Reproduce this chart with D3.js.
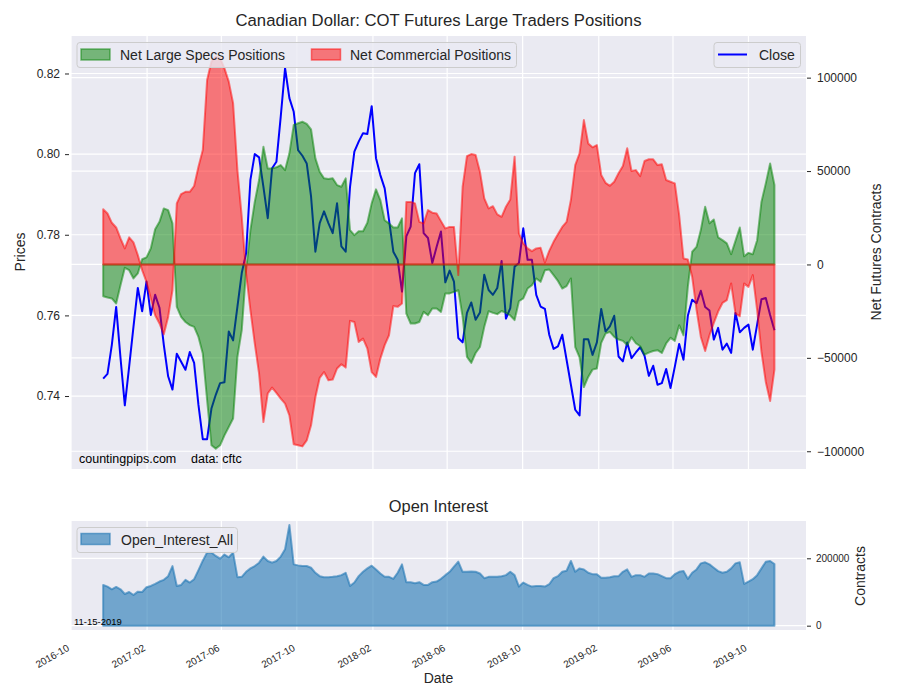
<!DOCTYPE html>
<html lang="en">
<head>
  <meta charset="UTF-8">
  <title>Canadian Dollar: COT Futures Large Traders Positions</title>
  <script src="https://d3js.org/d3.v7.min.js"></script>
  <style>
    body {
      margin: 0;
      background: #fff;
    }
    svg {
      font-family: "Liberation Sans", Arial, sans-serif;
      display: block;
    }
  </style>
</head>
<body>
  <svg width="900" height="700"></svg>

  <script>
    // weekly COT reports (Tuesdays), first one
    const firstReport = "2016-11-22";

    const closePrices = [
      0.7443, 0.7455, 0.7527, 0.7621, 0.7495, 0.7377, 0.7473, 0.7572, 0.7668, 0.7610,
      0.7684, 0.7601, 0.7651, 0.7619, 0.7527, 0.7449, 0.7416, 0.7505, 0.7485, 0.7465,
      0.7509, 0.7482, 0.7378, 0.7293, 0.7293, 0.7369, 0.7403, 0.7432, 0.7434, 0.7560,
      0.7538, 0.7622, 0.7705, 0.7754, 0.7936, 0.8000, 0.7992, 0.7919, 0.7841, 0.7965,
      0.7981, 0.8093, 0.8213, 0.8139, 0.8105, 0.8010, 0.7996, 0.7977, 0.7895, 0.7758,
      0.7829, 0.7858, 0.7829, 0.7804, 0.7878, 0.7771, 0.7758, 0.7919, 0.8006, 0.8031,
      0.8052, 0.8050, 0.8119, 0.7990, 0.7948, 0.7915, 0.7837, 0.7758, 0.7738, 0.7659,
      0.7796, 0.7820, 0.7953, 0.7975, 0.7804, 0.7792, 0.7730, 0.7770, 0.7808, 0.7682,
      0.7711, 0.7684, 0.7544, 0.7533, 0.7606, 0.7632, 0.7589, 0.7607, 0.7701, 0.7663,
      0.7651, 0.7668, 0.7735, 0.7592, 0.7618, 0.7721, 0.7730, 0.7816, 0.7738, 0.7738,
      0.7651, 0.7622, 0.7616, 0.7552, 0.7517, 0.7523, 0.7552, 0.7490, 0.7428,
      0.7366, 0.7352, 0.7541, 0.7541, 0.7502, 0.7533, 0.7616, 0.7560, 0.7573, 0.7599,
      0.7498, 0.7486, 0.7533, 0.7494, 0.7508, 0.7521, 0.7500, 0.7450, 0.7475, 0.7428,
      0.7432, 0.7467, 0.7420, 0.7473, 0.7529, 0.7490, 0.7599, 0.7639, 0.7630, 0.7661,
      0.7621, 0.7612, 0.7540, 0.7569, 0.7515, 0.7530, 0.7507, 0.7606, 0.7558, 0.7569,
      0.7577, 0.7515, 0.7577, 0.7640, 0.7643, 0.7601, 0.7563
    ];

    const specsNet = [
      -17000, -17700, -18200, -20900, -11100, -1800, -3100, -7500, -4800, 2800,
      3800, 8600, 18800, 22800, 30000, 29100, 22000, -22700, -28100, -30800,
      -32500, -33400, -38800, -47700, -72700, -96800, -98600, -96800, -91500, -87000,
      -82500, -49500, -35200, -3100, 18400, 33500, 45200, 63000, 51400, 51400,
      52000, 53200, 50500, 59500, 74700, 75600, 76400, 75200, 72300, 56800,
      49600, 46100, 45700, 46100, 42500, 41600, 46100, 18400, 15700, 17800,
      17800, 22300, 32700, 40200, 34500, 23700, 22000, 19800, 19800, 24700,
      -26300, -31600, -31600, -30800, -25400, -27200, -23600, -23600, -25400, -15500,
      -15500, -14700, -13800, -28100, -49500, -52700, -47400, -44200, -33400, -25000,
      -25900, -26600, -24900, -25900, -27300, -29800, -19700, -18200, -12900, -11100,
      -7500, -9300, -3100, -2700, -5700, -8800, -12900, -11600, -7500,
      -44200, -49800, -65600, -60200, -56300, -55700, -42000, -37000, -36100, -38800,
      -40200, -40900, -43200, -39000, -42200, -43800, -48300, -47200, -46300, -45900,
      -47400, -42300, -39300, -40900, -32500, -37900, -12000, 6800, 9400, 18400,
      30900, 22000, 24100, 14500, 13000, 11300, 5500, 12600, 19800, 4400,
      6200, 5500, 13000, 33500, 43400, 54100, 42500
    ];

    const commercialNet = [
      29600, 27300, 22300, 19800, 13900, 8600, 14500, 11800, 5000, -3100,
      -9300, -18200, -27200, -31600, -37400, -28100, -13800, 32700, 37700, 38900,
      38900, 42000, 52300, 61300, 98800, 108600, 111300, 110400, 105000, 97900,
      86300, 50500, 25500, -4800, -24500, -42300, -58400, -84400, -69100, -65900,
      -68800, -71800, -74500, -80800, -96300, -96800, -97400, -94200, -86100, -71100,
      -60700, -57600, -62000, -61600, -55700, -53400, -55200, -30200, -30800, -41500,
      -39700, -45000, -57600, -60200, -50400, -43200, -37900, -22300, -22700, -20900,
      33500, 33500, 32700, 22800, 22000, 29100, 27700, 27300, 23200, 19300,
      20100, 20100, -5700, 41600, 58000, 59100, 58600, 49600, 35400, 30000,
      31200, 26800, 25500, 30900, 34800, 57700, 16600, 11300, 8600, 7100,
      8600, 8900, 1100, 7300, 12100, 16200, 20100, 22800, 34500,
      53200, 59500, 77300, 64800, 62700, 63900, 47900, 43700, 42100, 44300,
      48800, 52700, 62200, 50000, 50500, 47300, 55400, 56300, 56300, 53200,
      53600, 45200, 44300, 43400, 26400, 3200, 2700, -6600, -24100, -38800,
      -46300, -37900, -31300, -25200, -20600, -19100, -10200, -26300, -27700, -10200,
      -12000, -5700, -24500, -46800, -62900, -73100, -56300
    ];

    const openInterest = [
      121000, 116000, 108000, 115000, 108000, 94000, 100000, 91000, 101000, 100000,
      114000, 118000, 124000, 131000, 136000, 147000, 177000, 118000, 121000, 136000,
      128000, 138000, 165000, 193000, 217000, 217000, 207000, 199000, 211000, 203000,
      217000, 144000, 145000, 160000, 170000, 177000, 187000, 205000, 192000, 187000,
      192000, 205000, 227000, 299000, 182000, 179000, 177000, 177000, 172000, 157000,
      147000, 144000, 144000, 145000, 147000, 150000, 157000, 118000, 128000, 147000,
      160000, 170000, 178000, 167000, 155000, 145000, 145000, 139000, 157000, 182000,
      129000, 129000, 126000, 129000, 121000, 121000, 129000, 131000, 139000, 150000,
      160000, 175000, 190000, 160000, 160000, 161000, 160000, 155000, 141000,
      145000, 145000, 145000, 147000, 150000, 160000, 150000, 116000, 128000, 121000,
      116000, 118000, 118000, 116000, 123000, 141000, 147000, 160000, 163000, 192000,
      160000, 170000, 167000, 157000, 153000, 153000, 142000, 142000, 144000, 147000,
      147000, 160000, 167000, 145000, 150000, 150000, 145000, 155000, 155000, 153000,
      147000, 141000, 141000, 153000, 160000, 162000, 139000, 157000, 167000, 185000,
      188000, 182000, 172000, 162000, 157000, 160000, 170000, 185000, 188000, 124000,
      131000, 138000, 150000, 170000, 190000, 192000, 183000
    ];

    const dateTicks = ["2016-10", "2017-02", "2017-06", "2017-10", "2018-02",
                       "2018-06", "2018-10", "2019-02", "2019-06", "2019-10"];
    const priceTicks = [0.74, 0.76, 0.78, 0.80, 0.82];
    const netTicks = [-100000, -50000, 0, 50000, 100000];
    const oiTicks = [0, 200000];

    const svg = d3.select("svg");
    const textColor = "#262626";
    const bg = "#eaeaf2";

    const left = 71, right = 806;
    const top1 = 36, bottom1 = 469;
    const top2 = 521, bottom2 = 630;

    const startDay = d3.utcParse("%Y-%m-%d")(firstReport);
    const dates = closePrices.map((_, i) => d3.utcDay.offset(startDay, 7 * i));
    const tickDates = dateTicks.map(d3.utcParse("%Y-%m"));

    const x = d3.scaleUtc()
      .domain([new Date(Date.UTC(2016, 9, 1)), new Date(Date.UTC(2020, 0, 2))])
      .range([left, right]);
    const yPrice = d3.scaleLinear().domain([0.7219, 0.8293]).range([bottom1, top1]);
    const yNet = d3.scaleLinear().domain([-109500, 122300]).range([bottom1, top1]);
    const yOI = d3.scaleLinear().domain([-12800, 310700]).range([bottom2, top2]);

    // panel backgrounds + grid
    function panel(y0, y1, hLines, clipId) {
      svg.append("rect")
        .attr("x", left).attr("y", y0)
        .attr("width", right - left).attr("height", y1 - y0)
        .attr("fill", bg);
      svg.append("clipPath").attr("id", clipId)
        .append("rect")
        .attr("x", left).attr("y", y0)
        .attr("width", right - left).attr("height", y1 - y0);
      const g = svg.append("g").attr("stroke", "#fff").attr("stroke-width", 1.2);
      g.selectAll(".v").data(tickDates).join("line")
        .attr("x1", d => x(d)).attr("x2", d => x(d))
        .attr("y1", y0).attr("y2", y1);
      g.selectAll(".h").data(hLines).join("line")
        .attr("x1", left).attr("x2", right)
        .attr("y1", d => d).attr("y2", d => d);
    }

    panel(top1, bottom1,
      priceTicks.map(yPrice).concat(netTicks.map(yNet)), "clipTop");
    panel(top2, bottom2, oiTicks.map(yOI), "clipBottom");

    // top panel series
    const topG = svg.append("g").attr("clip-path", "url(#clipTop)");

    const closeLine = d3.line()
      .x((d, i) => x(dates[i]))
      .y(d => yPrice(d));

    topG.append("path")
      .datum(closePrices)
      .attr("d", closeLine)
      .attr("fill", "none")
      .attr("stroke", "#0000ff")
      .attr("stroke-width", 2)
      .attr("stroke-linejoin", "round");

    const netArea = d3.area()
      .x((d, i) => x(dates[i]))
      .y0(yNet(0))
      .y1(d => yNet(d));

    [[specsNet, "#008000"], [commercialNet, "#ff0000"]].forEach(([vals, col]) => {
      topG.append("path")
        .datum(vals)
        .attr("d", netArea)
        .attr("fill", col)
        .attr("fill-opacity", 0.5)
        .attr("stroke", col)
        .attr("stroke-opacity", 0.5)
        .attr("stroke-width", 2)
        .attr("stroke-linejoin", "round");
    });

    // bottom panel
    const oiArea = d3.area()
      .x((d, i) => x(dates[i]))
      .y0(yOI(0))
      .y1(d => yOI(d));

    svg.append("g").attr("clip-path", "url(#clipBottom)")
      .append("path")
      .datum(openInterest)
      .attr("d", oiArea)
      .attr("fill", "#1f77b4")
      .attr("fill-opacity", 0.6)
      .attr("stroke", "#1f77b4")
      .attr("stroke-opacity", 0.6)
      .attr("stroke-width", 2)
      .attr("stroke-linejoin", "round");

    // axes
    function styleAxis(g, size) {
      g.select(".domain").remove();
      g.selectAll(".tick line").attr("stroke", textColor).attr("stroke-width", 1);
      g.selectAll(".tick text").attr("fill", textColor)
        .style("font-size", size + "px")
        .style("font-family", '"Liberation Sans", Arial, sans-serif');
    }

    svg.append("g")
      .attr("transform", `translate(${left - 2},0)`)
      .call(d3.axisLeft(yPrice).tickValues(priceTicks)
        .tickFormat(d3.format(".2f")).tickSize(4).tickPadding(5))
      .call(g => styleAxis(g, 12));

    svg.append("g")
      .attr("transform", `translate(${right + 1},0)`)
      .call(d3.axisRight(yNet).tickValues(netTicks)
        .tickFormat(d3.format("d")).tickSize(4).tickPadding(6))
      .call(g => styleAxis(g, 12));

    svg.append("g")
      .attr("transform", `translate(${right + 1},0)`)
      .call(d3.axisRight(yOI).tickValues(oiTicks)
        .tickFormat(d3.format("d")).tickSize(4).tickPadding(5))
      .call(g => styleAxis(g, 10));

    // rotated date labels under the bottom panel
    svg.append("g").selectAll("text")
      .data(tickDates)
      .join("text")
      .attr("transform", d => `translate(${x(d) - 1},650) rotate(-30)`)
      .attr("text-anchor", "end")
      .attr("fill", textColor)
      .style("font-size", "10px")
      .text(d3.utcFormat("%Y-%m"));

    // titles and axis labels
    const label = (txt, px, py, size, rot) => {
      svg.append("text")
        .attr("transform", `translate(${px},${py})` + (rot ? ` rotate(${rot})` : ""))
        .attr("text-anchor", "middle")
        .attr("fill", textColor)
        .style("font-size", size + "px")
        .text(txt);
    };
    label("Canadian Dollar: COT Futures Large Traders Positions", (left + right) / 2, 26, 16.7);
    label("Open Interest", (left + right) / 2, 512, 16.4);
    label("Date", (left + right) / 2, 683, 14);
    label("Prices", 25, 252, 14, -90);
    label("Net Futures Contracts", 881, 252, 14, -90);
    label("Contracts", 865, 576, 14, -90);

    // watermark
    svg.append("text").attr("x", 79).attr("y", 463)
      .attr("fill", "#000").style("font-size", "12.5px").text("countingpips.com");
    svg.append("text").attr("x", 191).attr("y", 463)
      .attr("fill", "#000").style("font-size", "12.5px").text("data: cftc");
    svg.append("text").attr("x", 74).attr("y", 625)
      .attr("fill", "#000").style("font-size", "9.5px").text("11-15-2019");

    // legends
    function legendBox(x0, y0, w) {
      svg.append("rect")
        .attr("x", x0).attr("y", y0).attr("width", w).attr("height", 25)
        .attr("rx", 3)
        .attr("fill", bg).attr("fill-opacity", 0.8)
        .attr("stroke", "#cccccc").attr("stroke-width", 1);
    }
    function patch(x0, y0, col, op) {
      svg.append("rect")
        .attr("x", x0).attr("y", y0).attr("width", 29).attr("height", 11)
        .attr("fill", col).attr("fill-opacity", op)
        .attr("stroke", col).attr("stroke-opacity", op).attr("stroke-width", 1.5);
    }
    function legendText(x0, y0, txt) {
      svg.append("text").attr("x", x0).attr("y", y0)
        .attr("fill", textColor).style("font-size", "14px").text(txt);
    }

    legendBox(77, 42.5, 439.5);
    patch(81, 49, "#008000", 0.5);
    legendText(120, 59.5, "Net Large Specs Positions");
    patch(311.5, 49, "#ff0000", 0.5);
    legendText(350, 59.5, "Net Commercial Positions");

    legendBox(714, 42.5, 86.5);
    svg.append("line")
      .attr("x1", 718).attr("x2", 747).attr("y1", 54.5).attr("y2", 54.5)
      .attr("stroke", "#0000ff").attr("stroke-width", 2);
    legendText(759, 59.5, "Close");

    legendBox(77, 527.5, 160.5);
    patch(81, 533.5, "#1f77b4", 0.6);
    legendText(121, 545, "Open_Interest_All");
  </script>
</body>
</html>
